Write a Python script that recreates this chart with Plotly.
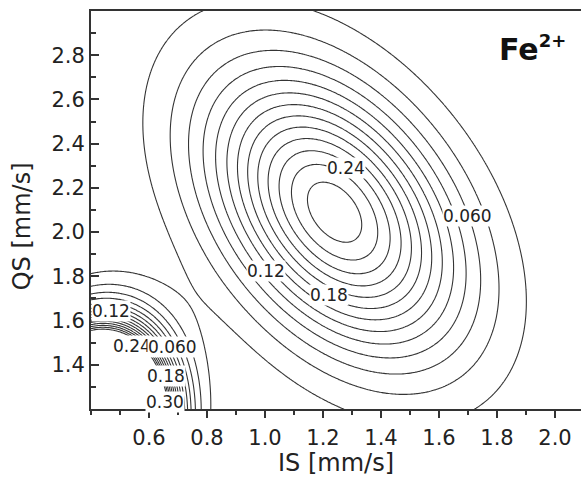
import numpy as np
import plotly.graph_objects as go

# ---- data: two Gaussian components of the (IS, QS) distribution ----
peak_is = [1.24, 0.40]        # centre IS [mm/s]
peak_qs = [2.09, 1.08]        # centre QS [mm/s]
peak_amp = [0.274, 2.2]       # peak height
peak_sig_is = [0.289, 0.134]  # width along IS
peak_sig_qs = [0.420, 0.241]  # width along QS
peak_rho = [-0.42, 0.15]      # IS-QS correlation

level_start = 0.02
level_step = 0.02
level_end = 0.30

# contour levels that carry a printed label (every third level)
label_levels = [0.24, 0.06, 0.12, 0.18, 0.12, 0.24, 0.06, 0.18, 0.30]

x_ticks = [0.6, 0.8, 1.0, 1.2, 1.4, 1.6, 1.8, 2.0]
y_ticks = [1.4, 1.6, 1.8, 2.0, 2.2, 2.4, 2.6, 2.8]

is_grid = np.arange(0.30, 2.20, 0.006)
qs_grid = np.arange(0.95, 3.10, 0.006)
X, Y = np.meshgrid(is_grid, qs_grid)
Z = np.zeros_like(X)
for cx, cy, a, sx, sy, r in zip(peak_is, peak_qs, peak_amp, peak_sig_is, peak_sig_qs, peak_rho):
    u = (X - cx) / sx
    v = (Y - cy) / sy
    Z += a * np.exp(-(u * u + v * v - 2 * r * u * v) / (2 * (1 - r * r)))

FONT = "DejaVu Sans, Liberation Sans, Arial"
line_col = "#353535"

fig = go.Figure()
fig.add_trace(go.Contour(
    x=is_grid, y=qs_grid, z=Z,
    contours=dict(coloring="none", start=level_start, end=level_end + 1e-9,
                  size=level_step, showlabels=False),
    line=dict(color=line_col, width=1.1),
    showscale=False, hoverinfo="skip",
))

# contour labels, horizontal as in the original (placement on the lines)
label_xy = [(1.281, 2.289), (1.697, 2.073), (1.005, 1.825), (1.219, 1.716),
            (0.468, 1.641), (0.543, 1.484), (0.681, 1.482), (0.657, 1.348), (0.655, 1.232)]
for lvl, (lx, ly) in zip(label_levels, label_xy):
    fig.add_annotation(
        x=lx, y=ly, xref="x", yref="y", text=format(lvl, "#.2g"), showarrow=False,
        font=dict(family=FONT, size=17, color="#222222"),
        bgcolor="white", borderpad=0, xanchor="center", yanchor="middle",
    )

fig.add_annotation(
    x=0.828, y=0.905, xref="paper", yref="paper", xanchor="left", yanchor="middle",
    text="<b>Fe<sup><span style='font-size:18px'>2+</span></sup></b>", showarrow=False,
    font=dict(family=FONT, size=30, color="#111111"),
)

# y-axis title placed like the original (slightly below the axis centre)
fig.add_annotation(
    x=-0.14, y=0.46, xref="paper", yref="paper", xanchor="center", yanchor="middle",
    text="QS [mm/s]", textangle=-90, showarrow=False,
    font=dict(family=FONT, size=24, color="#222222"),
)

axis_font = dict(family=FONT, size=21, color="#222222")
fig.update_layout(
    width=581, height=477,
    margin=dict(l=91, r=0, t=11, b=68),
    paper_bgcolor="white", plot_bgcolor="white",
    showlegend=False,
    xaxis=dict(
        range=[0.4, 0.4 + 490 / 290], tickvals=x_ticks, ticktext=[f"{v:.1f}" for v in x_ticks],
        ticks="outside", ticklen=7, tickwidth=1.5, tickcolor="#333",
        minor=dict(ticks="outside", ticklen=4, tickwidth=1.5, tickcolor="#333", dtick=0.1, tick0=0.5),
        showline=True, linecolor="#333", linewidth=1.8, mirror=True,
        showgrid=False, zeroline=False, tickfont=axis_font, ticklabelstandoff=2,
        title=dict(text="IS [mm/s]", font=dict(family=FONT, size=24, color="#222"), standoff=4),
    ),
    yaxis=dict(
        range=[1.2, 3.0], tickvals=y_ticks, ticktext=[f"{v:.1f}" for v in y_ticks],
        ticks="inside", ticklen=8, tickwidth=1.5, tickcolor="#333",
        minor=dict(ticks="inside", ticklen=5, tickwidth=1.5, tickcolor="#333", dtick=0.1, tick0=1.3),
        showline=True, linecolor="#333", linewidth=1.8, mirror=False,
        showgrid=False, zeroline=False, tickfont=axis_font, ticklabelstandoff=0,
    ),
)

fig.write_html("out.html")
